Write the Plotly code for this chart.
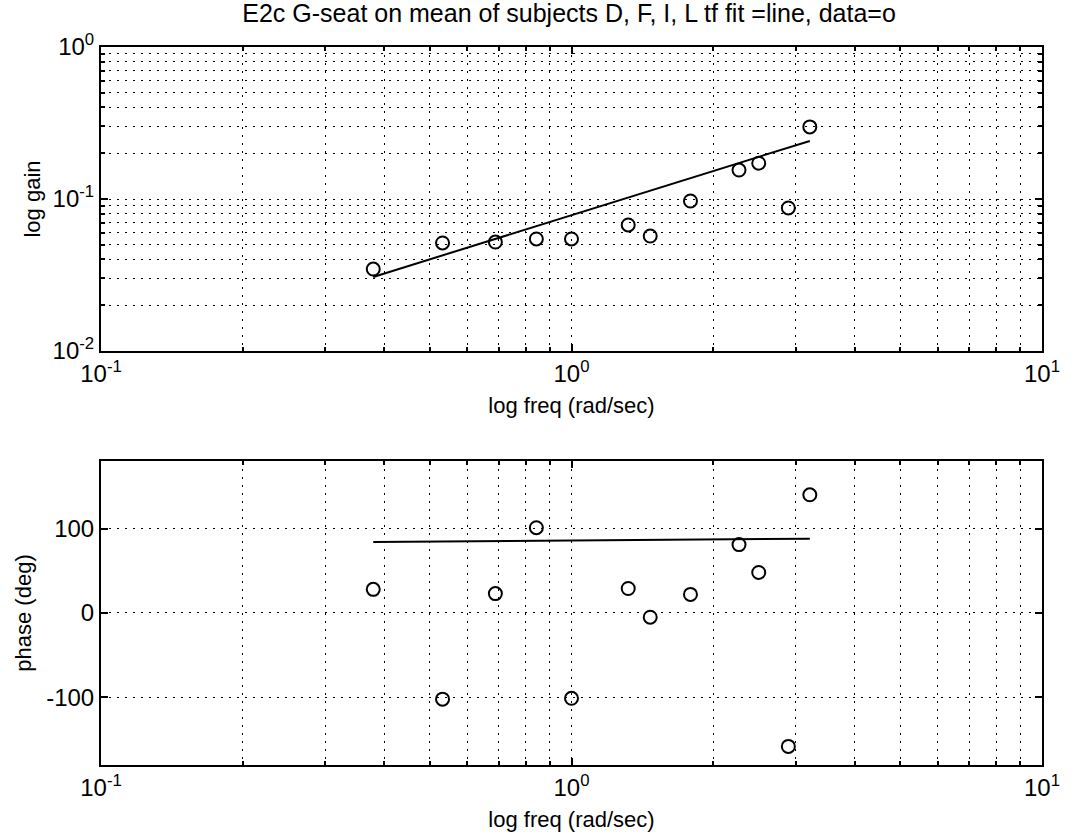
import plotly.graph_objects as go
from plotly.subplots import make_subplots

# Measured frequency response (rad/sec) and transfer-function fit
freq = [0.379, 0.532, 0.689, 0.842, 1.0, 1.32, 1.47, 1.79, 2.27, 2.50, 2.89, 3.21]
gain_data = [0.0346, 0.0514, 0.0521, 0.0546, 0.0546, 0.0675, 0.0571, 0.097, 0.155, 0.172, 0.0873, 0.298]
phase_data = [28, -102, 23, 101, -101, 29, -5, 22, 81, 48, -158, 140]
gain_fit = [0.0307, 0.0426, 0.0546, 0.0663, 0.0782, 0.102, 0.1135, 0.137, 0.172, 0.189, 0.217, 0.241]
phase_fit = [84.0, 84.5, 85.0, 85.3, 85.7, 86.2, 86.4, 86.8, 87.3, 87.5, 87.8, 88.0]

x_tickvals = [0.1, 1, 10]
x_ticktext = ["10<sup>-1</sup>", "10<sup>0</sup>", "10<sup>1</sup>"]
x_minorvals = [0.2, 0.3, 0.4, 0.5, 0.6, 0.7, 0.8, 0.9, 2, 3, 4, 5, 6, 7, 8, 9]
gain_tickvals = [0.01, 0.1, 1]
gain_ticktext = ["10<sup>-2</sup>", "10<sup>-1</sup>", "10<sup>0</sup>"]
gain_minorvals = [0.02, 0.03, 0.04, 0.05, 0.06, 0.07, 0.08, 0.09,
                  0.2, 0.3, 0.4, 0.5, 0.6, 0.7, 0.8, 0.9]
phase_tickvals = [-100, 0, 100]
phase_ticktext = ["-100", "0", "100"]

title_text = "E2c G-seat on mean of subjects D, F, I, L tf fit =line, data=o"

FONT = "Liberation Sans, Arial, Helvetica, sans-serif"
GRID_DASH = "2px,6px"

fig = make_subplots(rows=2, cols=1, vertical_spacing=0.153)

line_style = dict(color="black", width=2)
marker_style = dict(symbol="circle-open", size=13, color="black", line=dict(color="black", width=2))

fig.add_trace(go.Scatter(x=freq, y=gain_fit, mode="lines", line=line_style), row=1, col=1)
fig.add_trace(go.Scatter(x=freq, y=gain_data, mode="markers", marker=marker_style), row=1, col=1)
fig.add_trace(go.Scatter(x=freq, y=phase_fit, mode="lines", line=line_style), row=2, col=1)
fig.add_trace(go.Scatter(x=freq, y=phase_data, mode="markers", marker=marker_style), row=2, col=1)

axis_common = dict(
    showline=True, linecolor="black", linewidth=2, mirror="ticks",
    ticks="inside", ticklen=7, tickwidth=1.5, tickcolor="black",
    showgrid=True, gridcolor="black", gridwidth=1, griddash=GRID_DASH,
    zeroline=False,
    tickfont=dict(family=FONT, size=24, color="black"),
    title_font=dict(family=FONT, size=22, color="black"),
)


def log_minor(vals):
    return dict(tickmode="array", tickvals=vals, ticks="inside", ticklen=4,
                tickcolor="black", showgrid=True, gridcolor="black",
                gridwidth=1, griddash=GRID_DASH)


for r in (1, 2):
    fig.update_xaxes(
        type="log", range=[-1, 1], tickvals=x_tickvals, ticktext=x_ticktext,
        minor=log_minor(x_minorvals), title_text="log freq (rad/sec)", title_standoff=12,
        row=r, col=1, **axis_common,
    )

fig.update_yaxes(
    type="log", range=[-2, 0], tickvals=gain_tickvals, ticktext=gain_ticktext,
    minor=log_minor(gain_minorvals), title_text="log gain", title_standoff=6,
    row=1, col=1, **axis_common,
)
fig.update_yaxes(
    range=[-180, 180], tickvals=phase_tickvals, ticktext=phase_ticktext,
    title_text="phase (deg)", title_standoff=8,
    row=2, col=1, **axis_common,
)

fig.update_layout(
    width=1085, height=838,
    margin=dict(l=101, r=43, t=47, b=73, autoexpand=False),
    paper_bgcolor="white", plot_bgcolor="white",
    showlegend=False,
    title=dict(text=title_text, x=0.5245, xanchor="center", y=0.984, yanchor="middle",
               font=dict(family=FONT, size=25, color="black")),
)
fig.update_yaxes(domain=[0.5766, 1.0], row=1, col=1)
fig.update_yaxes(domain=[0.0, 0.4234], row=2, col=1)

fig.write_html("out.html")
